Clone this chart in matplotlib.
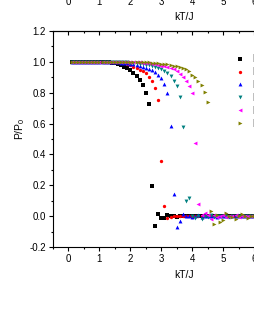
import matplotlib
matplotlib.use('Agg')
import matplotlib.pyplot as plt
from matplotlib.ticker import MultipleLocator

plt.rcParams['font.family'] = ['Liberation Sans', 'DejaVu Sans']
plt.rcParams['mathtext.fontset'] = 'custom'
plt.rcParams['mathtext.rm'] = 'Liberation Sans'
plt.rcParams['mathtext.it'] = 'Liberation Sans'

kT = [0.1, 0.2, 0.3, 0.4, 0.5, 0.6, 0.7, 0.8, 0.9, 1.0,
      1.1, 1.2, 1.3, 1.4, 1.5, 1.6, 1.7, 1.8, 1.9, 2.0,
      2.1, 2.2, 2.3, 2.4, 2.5, 2.6, 2.7, 2.8, 2.9, 3.0,
      3.1, 3.2, 3.3, 3.4, 3.5, 3.6, 3.7, 3.8, 3.9, 4.0,
      4.1, 4.2, 4.3, 4.4, 4.5, 4.6, 4.7, 4.8, 4.9, 5.0,
      5.1, 5.2, 5.3, 5.4, 5.5, 5.6, 5.7, 5.8, 5.9, 6.0,
      6.1, 6.2, 6.3, 6.4]

p_black = [1.0] * 10 + [
    0.999, 0.998, 0.996, 0.993, 0.99, 0.985, 0.978, 0.968, 0.957, 0.944,
    0.925, 0.908, 0.883, 0.849, 0.799, 0.725,
    0.195, -0.063, 0.017, -0.009, -0.009, 0.006,
    -0.002, 0.001, -0.003, 0.002, 0.0, -0.001, 0.003, -0.002,
    0.001, 0.0, -0.002, 0.002, -0.001, 0.001, 0.0, -0.002,
    0.001, 0.0, -0.001, 0.002, 0.0, -0.001, 0.001, 0.0,
    -0.002, 0.001, 0.0, -0.001, 0.001, 0.0, -0.001, 0.0]

p_red = [1.0] * 16 + [
    0.996, 0.992, 0.986, 0.978, 0.968, 0.959, 0.95, 0.938, 0.925, 0.905,
    0.877, 0.83, 0.751,
    0.359, 0.065, -0.01,
    -0.004, 0.002, -0.002, 0.003, -0.001, 0.0, 0.002, -0.003,
    0.001, -0.001, 0.0, 0.002, -0.002, 0.001, 0.0, -0.001,
    0.002, 0.0, -0.002, 0.001, 0.0, -0.001, 0.002, 0.0,
    -0.001, 0.001, 0.0, -0.002, 0.001, 0.0, -0.001, 0.001]

p_blue = [1.0] * 13 + [
    0.999, 0.998, 0.997, 0.995, 0.993, 0.99, 0.987, 0.983, 0.978, 0.973,
    0.967, 0.961, 0.956, 0.95, 0.937, 0.916, 0.894, 0.857, 0.797,
    0.584, 0.145, -0.069, -0.032, 0.011,
    -0.002, 0.003, -0.004, 0.002, 0.005, -0.003, 0.001, -0.002,
    0.004, 0.0, -0.003, 0.002, 0.001, -0.002, 0.003, 0.0,
    -0.001, 0.002, -0.002, 0.001, 0.0, -0.001, 0.002, 0.0,
    -0.001, 0.001, 0.0]

p_teal = [1.0] * 15 + [
    0.999, 0.999, 0.998, 0.997, 0.995, 0.993, 0.99, 0.988, 0.985, 0.982,
    0.977, 0.971, 0.964, 0.958, 0.951, 0.942, 0.925, 0.907, 0.877, 0.842,
    0.773, 0.578,
    0.099, 0.117, 0.004, -0.011, 0.003, -0.02,
    0.002, -0.006, 0.005, -0.003, 0.004, -0.002, 0.001, 0.003,
    -0.004, 0.002, 0.0, -0.002, 0.003, -0.001, 0.001, 0.0,
    -0.002, 0.002, 0.0, -0.001, 0.001]

p_magenta = [1.0] * 18 + [
    0.999, 0.999, 0.998, 0.997, 0.996, 0.994, 0.992, 0.99, 0.987, 0.984,
    0.98, 0.976, 0.971, 0.965, 0.959, 0.951, 0.938, 0.92, 0.9, 0.877,
    0.842, 0.797, 0.476,
    0.076, 0.005, 0.018, 0.008, -0.02,
    0.006, -0.004, 0.003, 0.01, -0.006, 0.004, -0.002, 0.005,
    -0.003, 0.002, 0.004, -0.002, 0.001, 0.003, -0.001, 0.002,
    0.0, -0.001]

p_olive = [1.0] * 20 + [
    0.999, 0.999, 0.998, 0.998, 0.997, 0.996, 0.995, 0.993, 0.991, 0.989,
    0.986, 0.983, 0.979, 0.975, 0.97, 0.965, 0.959, 0.951, 0.938, 0.916,
    0.9, 0.877, 0.849, 0.803, 0.737,
    0.033, -0.048, 0.009, -0.037, -0.027, 0.018, 0.002, -0.004, -0.021,
    0.004, 0.011, 0.001, -0.011, 0.003, -0.002, 0.002, 0.0, -0.003, 0.001]

series = [p_black, p_red, p_blue, p_teal, p_magenta, p_olive]
labels = ['L=4', 'L=6', 'L=8', 'L=10', 'L=12', 'L=14']
colors = ['#000000', '#FF0000', '#0000FF', '#008080', '#FF00FF', '#808000']
markers = ['s', 'o', '^', 'v', '<', '>']
msizes = [2.3, 2.4, 2.8, 2.8, 2.8, 2.8]

for s in series:
    assert len(s) == len(kT), len(s)

fig = plt.figure(figsize=(2.55, 3.30), dpi=100)
W, H = 255.0, 330.0
ax = fig.add_axes([53 / W, 83 / H, 263 / W, 216 / H])

for s, lab, c, m, ms in zip(series, labels, colors, markers, msizes):
    ax.plot(kT, s, linestyle='none', marker=m, color=c, markersize=ms,
            markeredgewidth=0, label=lab)

ax.set_xlim(-0.5, 8)
ax.set_ylim(-0.2, 1.2)
ax.set_xticks(range(0, 9))
ax.set_yticks([-0.2, 0.0, 0.2, 0.4, 0.6, 0.8, 1.0, 1.2])
ax.set_yticklabels(['-0.2', '0.0', '0.2', '0.4', '0.6', '0.8', '1.0', '1.2'])
ax.xaxis.set_minor_locator(MultipleLocator(0.5))
ax.yaxis.set_minor_locator(MultipleLocator(0.1))
ax.tick_params(which='both', direction='out', width=0.8, labelsize=7,
               pad=2, top=False, right=False)
ax.tick_params(which='major', length=3)
ax.tick_params(which='minor', length=1.5)
for sp in ax.spines.values():
    sp.set_linewidth(0.8)
ax.set_xlabel('kT/J', fontsize=7.5, labelpad=4)
ax.set_ylabel(r'P/P$_0$', fontsize=7.5)
ax.yaxis.set_label_coords(-0.1, 0.546)

sec = ax.secondary_xaxis('top')
sec.set_xticks(range(0, 9))
sec.xaxis.set_minor_locator(MultipleLocator(0.5))
sec.tick_params(which='both', direction='in', labeltop=False, width=0.8)
sec.tick_params(which='major', length=3)
sec.tick_params(which='minor', length=1.5)
sec.spines['top'].set_linewidth(0.8)

ax.legend(loc='upper left', bbox_to_anchor=((235 - 53) / 263, (247 - 54) / 216),
          frameon=False, fontsize=7, handlelength=1, handletextpad=0.82,
          labelspacing=0.3, borderpad=0, borderaxespad=0, numpoints=1)

# bottom of the chart above, cropped
ax2 = fig.add_axes([53 / W, 1 + 10 / H, 263 / W, 0.3])
ax2.set_xlim(-0.5, 8)
ax2.set_xticks(range(0, 9))
ax2.set_yticks([])
ax2.patch.set_visible(False)
ax2.tick_params(direction='out', length=3, labelsize=7, pad=2)
ax2.set_xlabel('kT/J', fontsize=7.5, labelpad=4)

fig.savefig('out.png', dpi=100)
